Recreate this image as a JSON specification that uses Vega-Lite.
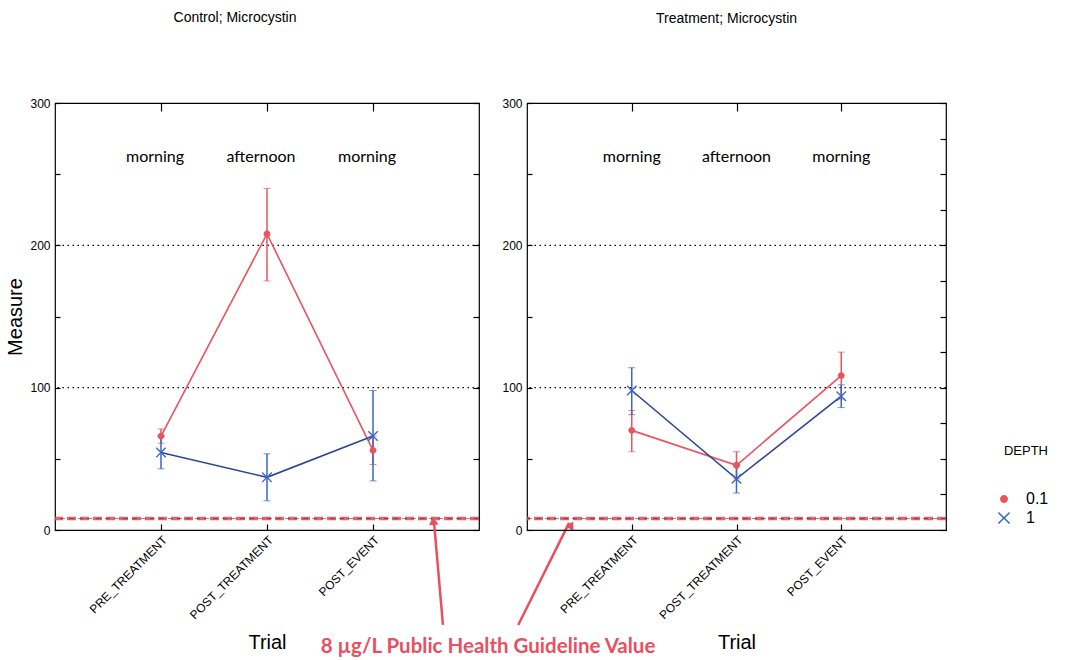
{
  "$schema": "https://vega.github.io/schema/vega-lite/v6.json",
  "background": "white",
  "padding": {"left": 5, "top": 10, "right": 5, "bottom": 5},
  "datasets": {
    "main": [
      {"group": "Control", "Trial": "PRE_TREATMENT", "DEPTH": "0.1", "mean": 66, "lo": 61, "hi": 71},
      {"group": "Control", "Trial": "POST_TREATMENT", "DEPTH": "0.1", "mean": 208, "lo": 175, "hi": 240},
      {"group": "Control", "Trial": "POST_EVENT", "DEPTH": "0.1", "mean": 56, "lo": 46, "hi": 66},
      {"group": "Control", "Trial": "PRE_TREATMENT", "DEPTH": "1", "mean": 54.5, "lo": 43, "hi": 66},
      {"group": "Control", "Trial": "POST_TREATMENT", "DEPTH": "1", "mean": 37, "lo": 20.5, "hi": 53.5},
      {"group": "Control", "Trial": "POST_EVENT", "DEPTH": "1", "mean": 66, "lo": 34.5, "hi": 98},
      {"group": "Treatment", "Trial": "PRE_TREATMENT", "DEPTH": "0.1", "mean": 70, "lo": 55, "hi": 84},
      {"group": "Treatment", "Trial": "POST_TREATMENT", "DEPTH": "0.1", "mean": 45.5, "lo": 36, "hi": 55},
      {"group": "Treatment", "Trial": "POST_EVENT", "DEPTH": "0.1", "mean": 108.5, "lo": 92, "hi": 125},
      {"group": "Treatment", "Trial": "PRE_TREATMENT", "DEPTH": "1", "mean": 98, "lo": 81, "hi": 114},
      {"group": "Treatment", "Trial": "POST_TREATMENT", "DEPTH": "1", "mean": 36, "lo": 26, "hi": 46},
      {"group": "Treatment", "Trial": "POST_EVENT", "DEPTH": "1", "mean": 94, "lo": 86, "hi": 102}
    ],
    "periods": [
      {"Trial": "PRE_TREATMENT", "label": "morning"},
      {"Trial": "POST_TREATMENT", "label": "afternoon"},
      {"Trial": "POST_EVENT", "label": "morning"}
    ],
    "grid": [{"g": 100}, {"g": 200}],
    "guide": [{"g": 8}],
    "arrows": [
      {"arrow": "a", "u": 3.66, "v": -66.7, "u2": 3.575, "v2": 6},
      {"arrow": "b", "u": 4.37, "v": -66.7, "u2": 4.85, "v2": 5}
    ],
    "heads": [
      {"arrow": "a", "u": 3.57, "v": 6.5},
      {"arrow": "b", "u": 4.87, "v": 3.5}
    ],
    "note": [{"u": 4.085, "v": -82, "text": "8 µg/L Public Health Guideline Value"}],
    "dummy": [{"u": 0, "v": 0}]
  },
  "hconcat": [
    {
      "width": 424,
      "height": 427,
      "title": {"text": "Control; Microcystin", "offset": 72, "dx": -32},
      "layer": [
        {
          "layer": [
            {
              "data": {"name": "grid"},
              "mark": {"type": "rule", "color": "black", "strokeWidth": 1.2, "strokeDash": [1.5, 3.5]},
              "encoding": {
                "y": {"field": "g", "type": "quantitative", "title": "Measure",
                  "scale": {"domain": [0, 300], "nice": false},
                  "axis": {"values": [0, 25, 50, 75, 100, 125, 150, 175, 200, 225, 250, 275, 300],
                    "labelExpr": "datum.value % 100 === 0 ? datum.label : ''",
                    "tickSize": -5, "labelPadding": 10, "domain": false, "grid": false,
                    "labelFontSize": 12, "titleFontSize": 20, "titlePadding": 4}}
              }
            },
            {
              "data": {"name": "guide"},
              "mark": {"type": "rule", "color": "#e8505f", "strokeWidth": 3.5, "strokeDash": [9, 4], "opacity": 0.9},
              "encoding": {"y": {"field": "g", "type": "quantitative", "title": "Measure"}}
            },
            {
              "data": {"name": "guide"},
              "mark": {"type": "rule", "color": "#333333", "strokeWidth": 0.8, "strokeDash": [5, 4], "opacity": 0.75},
              "encoding": {"y": {"field": "g", "type": "quantitative", "title": "Measure"}}
            },
            {
              "data": {"name": "main"},
              "transform": [{"filter": "datum.group === 'Control'"}],
              "mark": {"type": "errorbar", "ticks": {"size": 7}, "rule": {"strokeWidth": 1.5}},
              "encoding": {
                "x": {"field": "Trial", "type": "ordinal", "title": "Trial",
                  "scale": {"type": "point", "padding": 1, "domain": ["PRE_TREATMENT", "POST_TREATMENT", "POST_EVENT"]},
                  "axis": {"labelAngle": -45, "labelFontSize": 12, "tickSize": -6, "labelPadding": 10,
                    "domain": false, "titleFontSize": 20, "titlePadding": 12}},
                "y": {"field": "lo", "type": "quantitative", "title": "Measure"},
                "y2": {"field": "hi"},
                "color": {"field": "DEPTH", "type": "nominal", "title": "DEPTH",
                  "scale": {"domain": ["0.1", "1"], "range": ["#e8555f", "#3a66c4"]}}
              }
            },
            {
              "data": {"name": "main"},
              "transform": [{"filter": "datum.group === 'Control' && datum.DEPTH === '0.1'"}],
              "mark": {"type": "line", "strokeWidth": 1.6, "color": "#ea5360"},
              "encoding": {
                "x": {"field": "Trial", "type": "ordinal", "title": "Trial"},
                "y": {"field": "mean", "type": "quantitative", "title": "Measure"}
              }
            },
            {
              "data": {"name": "main"},
              "transform": [{"filter": "datum.group === 'Control' && datum.DEPTH === '1'"}],
              "mark": {"type": "line", "strokeWidth": 1.6, "color": "#2e4596"},
              "encoding": {
                "x": {"field": "Trial", "type": "ordinal", "title": "Trial"},
                "y": {"field": "mean", "type": "quantitative", "title": "Measure"}
              }
            },
            {
              "data": {"name": "main"},
              "transform": [{"filter": "datum.group === 'Control'"}],
              "mark": {"type": "point", "filled": true, "opacity": 1, "size": 110},
              "encoding": {
                "x": {"field": "Trial", "type": "ordinal", "title": "Trial"},
                "y": {"field": "mean", "type": "quantitative", "title": "Measure"},
                "color": {"field": "DEPTH", "type": "nominal", "title": "DEPTH"},
                "shape": {"field": "DEPTH", "type": "nominal", "title": "DEPTH",
                  "scale": {"domain": ["0.1", "1"], "range": [
                    "M0.65,0A0.65,0.65 0 1,1 -0.65,0A0.65,0.65 0 1,1 0.65,0Z",
                    "M-1,-0.82L-0.82,-1L0,-0.18L0.82,-1L1,-0.82L0.18,0L1,0.82L0.82,1L0,0.18L-0.82,1L-1,0.82L-0.18,0Z"]}}
              }
            },
            {
              "data": {"name": "periods"},
              "mark": {"type": "text", "font": "Lato", "fontSize": 16, "color": "black", "dx": -6},
              "encoding": {
                "x": {"field": "Trial", "type": "ordinal", "title": "Trial"},
                "y": {"datum": 262, "type": "quantitative", "title": "Measure"},
                "text": {"field": "label"}
              }
            }
          ]
        },
        {
          "layer": [
            {
              "data": {"name": "arrows"},
              "mark": {"type": "rule", "color": "#e8505f", "strokeWidth": 2.5},
              "encoding": {
                "x": {"field": "u", "type": "quantitative", "title": null,
                  "scale": {"domain": [0, 4], "nice": false, "zero": false},
                  "axis": {"orient": "top", "values": [1, 2, 3], "labels": false, "tickSize": -8, "domain": false, "grid": false}},
                "y": {"field": "v", "type": "quantitative", "title": null,
                  "scale": {"domain": [0, 300], "nice": false},
                  "axis": {"orient": "right", "values": [0, 25, 50, 75, 100, 125, 150, 175, 200, 225, 250, 275, 300],
                    "labels": false, "tickSize": -6, "domain": false, "grid": false}},
                "x2": {"field": "u2"},
                "y2": {"field": "v2"}
              }
            },
            {
              "data": {"name": "heads"},
              "mark": {"type": "point", "shape": "triangle-up", "filled": true, "opacity": 1, "size": 90, "color": "#e8505f"},
              "encoding": {
                "x": {"field": "u", "type": "quantitative", "title": null},
                "y": {"field": "v", "type": "quantitative", "title": null},
                "angle": {"field": "arrow", "type": "nominal", "scale": {"domain": ["a", "b"], "range": [-5, 28]}, "legend": null}
              }
            },
            {
              "data": {"name": "note"},
              "mark": {"type": "text", "font": "Lato", "fontSize": 20.5, "fontWeight": "bold", "color": "#e8505f"},
              "encoding": {
                "x": {"field": "u", "type": "quantitative", "title": null},
                "y": {"field": "v", "type": "quantitative", "title": null},
                "text": {"field": "text"}
              }
            }
          ]
        }
      ],
      "resolve": {"scale": {"x": "independent", "y": "independent"}}
    },
    {
      "width": 419,
      "height": 427,
      "title": {"text": "Treatment; Microcystin", "offset": 71, "dx": -10},
      "layer": [
        {
          "layer": [
            {
              "data": {"name": "grid"},
              "mark": {"type": "rule", "color": "black", "strokeWidth": 1.2, "strokeDash": [1.5, 3.5]},
              "encoding": {
                "y": {"field": "g", "type": "quantitative", "title": null,
                  "scale": {"domain": [0, 300], "nice": false},
                  "axis": {"values": [0, 25, 50, 75, 100, 125, 150, 175, 200, 225, 250, 275, 300],
                    "labelExpr": "datum.value % 100 === 0 ? datum.label : ''",
                    "tickSize": -5, "labelPadding": 10, "domain": false, "grid": false,
                    "labelFontSize": 12}}
              }
            },
            {
              "data": {"name": "guide"},
              "mark": {"type": "rule", "color": "#e8505f", "strokeWidth": 3.5, "strokeDash": [9, 4], "opacity": 0.9},
              "encoding": {"y": {"field": "g", "type": "quantitative", "title": null}}
            },
            {
              "data": {"name": "guide"},
              "mark": {"type": "rule", "color": "#333333", "strokeWidth": 0.8, "strokeDash": [5, 4], "opacity": 0.75},
              "encoding": {"y": {"field": "g", "type": "quantitative", "title": null}}
            },
            {
              "data": {"name": "main"},
              "transform": [{"filter": "datum.group === 'Treatment'"}],
              "mark": {"type": "errorbar", "ticks": {"size": 7}, "rule": {"strokeWidth": 1.5}},
              "encoding": {
                "x": {"field": "Trial", "type": "ordinal", "title": "Trial",
                  "scale": {"type": "point", "padding": 1, "domain": ["PRE_TREATMENT", "POST_TREATMENT", "POST_EVENT"]},
                  "axis": {"labelAngle": -45, "labelFontSize": 12, "tickSize": -6, "labelPadding": 10,
                    "domain": false, "titleFontSize": 20, "titlePadding": 12}},
                "y": {"field": "lo", "type": "quantitative", "title": null},
                "y2": {"field": "hi"},
                "color": {"field": "DEPTH", "type": "nominal", "title": "DEPTH"}
              }
            },
            {
              "data": {"name": "main"},
              "transform": [{"filter": "datum.group === 'Treatment' && datum.DEPTH === '0.1'"}],
              "mark": {"type": "line", "strokeWidth": 1.6, "color": "#ea5360"},
              "encoding": {
                "x": {"field": "Trial", "type": "ordinal", "title": "Trial"},
                "y": {"field": "mean", "type": "quantitative", "title": null}
              }
            },
            {
              "data": {"name": "main"},
              "transform": [{"filter": "datum.group === 'Treatment' && datum.DEPTH === '1'"}],
              "mark": {"type": "line", "strokeWidth": 1.6, "color": "#2e4596"},
              "encoding": {
                "x": {"field": "Trial", "type": "ordinal", "title": "Trial"},
                "y": {"field": "mean", "type": "quantitative", "title": null}
              }
            },
            {
              "data": {"name": "main"},
              "transform": [{"filter": "datum.group === 'Treatment'"}],
              "mark": {"type": "point", "filled": true, "opacity": 1, "size": 110},
              "encoding": {
                "x": {"field": "Trial", "type": "ordinal", "title": "Trial"},
                "y": {"field": "mean", "type": "quantitative", "title": null},
                "color": {"field": "DEPTH", "type": "nominal", "title": "DEPTH"},
                "shape": {"field": "DEPTH", "type": "nominal", "title": "DEPTH"}
              }
            },
            {
              "data": {"name": "periods"},
              "mark": {"type": "text", "font": "Lato", "fontSize": 16, "color": "black"},
              "encoding": {
                "x": {"field": "Trial", "type": "ordinal", "title": "Trial"},
                "y": {"datum": 262, "type": "quantitative", "title": null},
                "text": {"field": "label"}
              }
            }
          ]
        },
        {
          "data": {"name": "dummy"},
          "mark": {"type": "point", "opacity": 0},
          "encoding": {
            "x": {"field": "u", "type": "quantitative", "title": null,
              "scale": {"domain": [0, 4], "nice": false, "zero": false},
              "axis": {"orient": "top", "values": [1, 2, 3], "labels": false, "tickSize": -8, "domain": false, "grid": false}},
            "y": {"field": "v", "type": "quantitative", "title": null,
              "scale": {"domain": [0, 300], "nice": false},
              "axis": {"orient": "right", "values": [0, 25, 50, 75, 100, 125, 150, 175, 200, 225, 250, 275, 300],
                "labels": false, "tickSize": -6, "domain": false, "grid": false}}
          }
        }
      ],
      "resolve": {"scale": {"x": "independent", "y": "independent"}}
    }
  ],
  "spacing": 48,
  "bounds": "flush",
  "resolve": {"scale": {"color": "shared", "shape": "shared"}, "legend": {"color": "shared", "shape": "shared"}},
  "config": {
    "font": "Liberation Sans",
    "view": {"stroke": "black", "strokeWidth": 1.2},
    "title": {"font": "Liberation Sans", "fontSize": 14, "fontWeight": "normal", "color": "black", "anchor": "middle"},
    "axis": {"labelFont": "Liberation Sans", "labelColor": "black", "tickColor": "black", "titleFont": "Liberation Sans",
      "titleFontWeight": "normal", "titleColor": "black", "tickWidth": 1.2},
    "legend": {"orient": "none", "legendX": 941, "legendY": 342, "titleFont": "Liberation Sans Narrow, Liberation Sans", "titleFontSize": 13,
      "titleFontWeight": "normal", "titleColor": "black", "labelFont": "Liberation Sans", "labelFontSize": 16,
      "labelColor": "black", "titlePadding": 33, "symbolSize": 150, "symbolStrokeWidth": 0, "symbolOpacity": 1,
      "rowPadding": 3, "labelOffset": 14, "titleAnchor": "end"}
  }
}
